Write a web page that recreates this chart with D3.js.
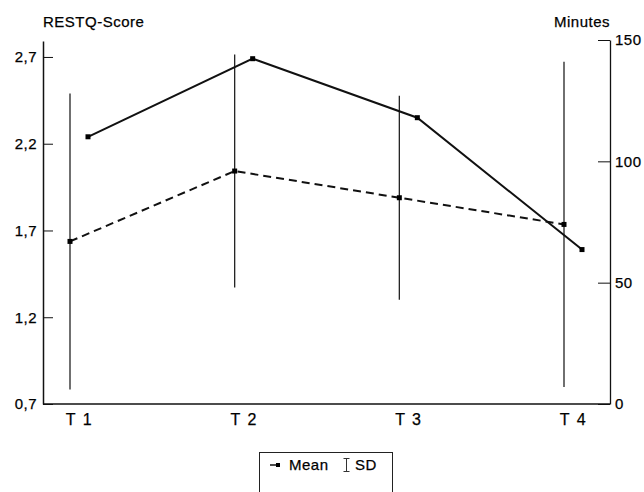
<!DOCTYPE html>
<html>
<head>
<meta charset="utf-8">
<script src="https://cdn.jsdelivr.net/npm/d3@7"></script>
<style>
  body { margin: 0; background: #fff; }
  svg { display: block; }
  text { font-family: "Liberation Sans", Arial, Helvetica, sans-serif; font-size: 15px; fill: #000; stroke: #000; stroke-width: 0.25px; letter-spacing: 0.5px; }
  .axis path, .axis line { stroke: #111; }
</style>
</head>
<body>
<div id="chart"></div>
<script>
// time points
const timePoints = ['T 1', 'T 2', 'T 3', 'T 4'];
// RESTQ score (left axis), solid line
const restqScore = [2.24, 2.69, 2.35, 1.59];
// training minutes (right axis), dashed line with SD bars
const minutesMean = [67, 96, 85, 74];
const minutesSD = [61, 48, 42, 67];
// axis ticks
const restqTicks = [0.7, 1.2, 1.7, 2.2, 2.7];
const minutesTicks = [0, 50, 100, 150];

const width = 644, height = 492;
const plot = {left: 43, right: 610, top: 40, bottom: 404};

const svg = d3.select('#chart').append('svg')
  .attr('width', width)
  .attr('height', height);

const x = d3.scalePoint().domain(timePoints).range([70, 564]);
const yLeft = d3.scaleLinear().domain([0.7, 2.792]).range([plot.bottom, plot.top + 1]);
const yRight = d3.scaleLinear().domain([0, 150]).range([plot.bottom, plot.top]);

const fmtComma = d => d3.format('.1f')(d).replace('.', ',');

// left axis
svg.append('g')
  .attr('class', 'axis')
  .attr('transform', `translate(${plot.left},0)`)
  .call(d3.axisLeft(yLeft).tickValues(restqTicks).tickFormat(fmtComma)
    .tickSizeInner(-10).tickSizeOuter(0).tickPadding(6))
  .call(g => g.select('.domain').attr('stroke-width', 1.5))
  .call(g => g.selectAll('text').style('font-size', '15px').style('font-family', null).attr('fill', null));

// right axis
svg.append('g')
  .attr('class', 'axis')
  .attr('transform', `translate(${plot.right},0)`)
  .call(d3.axisRight(yRight).tickValues(minutesTicks)
    .tickSizeInner(-12).tickSizeOuter(0).tickPadding(5))
  .call(g => g.select('.domain').attr('stroke-width', 1.3))
  .call(g => g.selectAll('text').style('font-size', '15px').style('font-family', null).attr('fill', null));

// bottom axis line
svg.append('line')
  .attr('x1', plot.left).attr('x2', plot.right)
  .attr('y1', plot.bottom).attr('y2', plot.bottom)
  .attr('stroke', '#111').attr('stroke-width', 1.5);

// x labels
svg.append('g').selectAll('text')
  .data(timePoints)
  .join('text')
  .attr('x', d => x(d) + 9)
  .attr('y', 425)
  .attr('text-anchor', 'middle')
  .style('font-size', '16px')
  .style('word-spacing', '2px')
  .text(d => d);

// axis titles
svg.append('text').attr('x', plot.left).attr('y', 27).text('RESTQ-Score');
svg.append('text').attr('x', plot.right).attr('y', 27).attr('text-anchor', 'end').text('Minutes');

// SD bars
svg.append('g').selectAll('line')
  .data(timePoints)
  .join('line')
  .attr('x1', d => x(d)).attr('x2', d => x(d))
  .attr('y1', (d, i) => yRight(minutesMean[i] + minutesSD[i]))
  .attr('y2', (d, i) => yRight(minutesMean[i] - minutesSD[i]))
  .attr('stroke', '#222')
  .attr('stroke-width', 1.3);

const offsetSolid = 18;

// dashed minutes line
const lineMinutes = d3.line()
  .x((d, i) => x(timePoints[i]))
  .y(d => yRight(d));
svg.append('path')
  .datum(minutesMean)
  .attr('d', lineMinutes)
  .attr('fill', 'none')
  .attr('stroke', '#111')
  .attr('stroke-width', 2)
  .attr('stroke-dasharray', '8,5');

// solid RESTQ line
const lineRestq = d3.line()
  .x((d, i) => x(timePoints[i]) + offsetSolid)
  .y(d => yLeft(d));
svg.append('path')
  .datum(restqScore)
  .attr('d', lineRestq)
  .attr('fill', 'none')
  .attr('stroke', '#111')
  .attr('stroke-width', 2);

// markers
const ms = 5;
svg.append('g').selectAll('rect')
  .data(minutesMean)
  .join('rect')
  .attr('x', (d, i) => x(timePoints[i]) - ms / 2)
  .attr('y', d => yRight(d) - ms / 2)
  .attr('width', ms).attr('height', ms)
  .attr('fill', '#000');

svg.append('g').selectAll('rect')
  .data(restqScore)
  .join('rect')
  .attr('x', (d, i) => x(timePoints[i]) + offsetSolid - ms / 2)
  .attr('y', d => yLeft(d) - ms / 2)
  .attr('width', ms).attr('height', ms)
  .attr('fill', '#000');

// legend
const legend = svg.append('g');
legend.append('rect')
  .attr('x', 259.5).attr('y', 452.5)
  .attr('width', 133).attr('height', 60)
  .attr('fill', 'none')
  .attr('stroke', '#222')
  .attr('stroke-width', 1);
legend.append('line')
  .attr('x1', 270).attr('x2', 277)
  .attr('y1', 465).attr('y2', 465)
  .attr('stroke', '#111').attr('stroke-width', 1.5);
legend.append('rect')
  .attr('x', 276).attr('y', 463)
  .attr('width', 4).attr('height', 4)
  .attr('fill', '#000');
legend.append('text').attr('x', 289).attr('y', 470).text('Mean');
// SD glyph
const sdx = 346.5;
legend.append('path')
  .attr('d', `M${sdx - 3},458.5H${sdx + 3}M${sdx},458.5V471.5M${sdx - 3},471.5H${sdx + 3}`)
  .attr('fill', 'none')
  .attr('stroke', '#333')
  .attr('stroke-width', 1);
legend.append('text').attr('x', 355).attr('y', 470).text('SD');
</script>
</body>
</html>
